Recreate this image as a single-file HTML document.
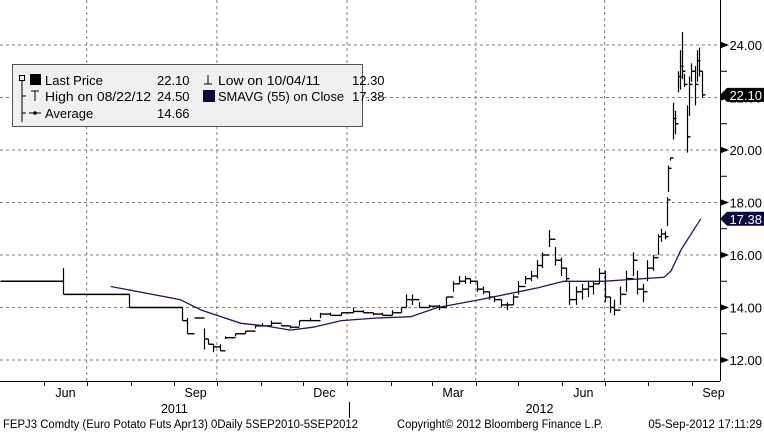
<!DOCTYPE html>
<html><head><meta charset="utf-8"><style>
html,body{margin:0;padding:0;background:#fff;}
svg{display:block;font-family:"Liberation Sans",sans-serif;}
</style></head><body>
<svg id="chart" width="764" height="433" viewBox="0 0 764 433" xmlns="http://www.w3.org/2000/svg">
<g id="grid"></g>
<g id="series"></g>
<polyline id="sma" fill="none" stroke="#1a1a5e" stroke-width="1.3"></polyline>
<g id="axes"></g>
<g>
  <rect x="12.5" y="64.5" width="350" height="62" fill="#f0f0f0" stroke="#555" stroke-width="1"/>
  <rect x="19.5" y="75.5" width="5" height="5" fill="none" stroke="#000"/>
  <line x1="22" y1="81" x2="22" y2="122" stroke="#000"/>
  <line x1="22" y1="96" x2="26" y2="96" stroke="#000"/>
  <line x1="22" y1="113" x2="26" y2="113" stroke="#000"/>
  <rect x="30" y="74" width="11" height="11" fill="#000"/>
  <text x="45" y="85" font-size="13">Last Price</text>
  <text x="157" y="85" font-size="13">22.10</text>
  <path d="M31 91 H39 M35 91 V101" stroke="#000" fill="none"/>
  <text x="45" y="101" font-size="13" textLength="106" lengthAdjust="spacingAndGlyphs">High on 08/22/12</text>
  <text x="157" y="101" font-size="13">24.50</text>
  <path d="M29 113 H41" stroke="#000"/><circle cx="35" cy="113" r="1.8" fill="#000"/>
  <text x="45" y="118" font-size="13">Average</text>
  <text x="157" y="118" font-size="13">14.66</text>
  <path d="M208 75 V84 M204 84 H212" stroke="#000" fill="none"/>
  <text x="218" y="85" font-size="13" textLength="102" lengthAdjust="spacingAndGlyphs">Low on 10/04/11</text>
  <text x="352" y="85" font-size="13" text-anchor="start">12.30</text>
  <rect x="203" y="90" width="12" height="12" fill="#0a0a40"/>
  <text x="218" y="101" font-size="13" textLength="126" lengthAdjust="spacingAndGlyphs">SMAVG (55) on Close</text>
  <text x="352" y="101" font-size="13">17.38</text>
</g>
<g id="footer" font-size="11.5">
  <text x="3" y="428" textLength="355" lengthAdjust="spacingAndGlyphs">FEPJ3 Comdty (Euro Potato Futs  Apr13) 0Daily 5SEP2010-5SEP2012</text>
  <text x="397" y="428" textLength="206" lengthAdjust="spacingAndGlyphs">Copyright© 2012 Bloomberg Finance L.P.</text>
  <text x="762" y="428" text-anchor="end">05-Sep-2012 17:11:29</text>
</g>
</svg>
<script>
// days measured from 2011-07-01
const barDays=[-61,-17,30,67,71,76,83,86,89,94,98,105,112,119,124,130,137,144,150,158,165,172,180,188,195,202,209,216,222,226,230,235,242,249,254,259,263,267,271,276,280,284,288,293,297,301,305,310,314,318,322,327,331,335,339,341,346,350,354,358,362,366,370,373,377,381,386,389,393,396,400,404,406,409,410,411,412,414,416,418,419,421,422,424,426,427,430,431,433,435];
const barHigh=[15.0,15.5,14.5,14.0,13.6,13.6,13.2,12.8,12.6,12.6,12.9,13.0,13.1,13.3,13.4,13.5,13.35,13.3,13.5,13.6,13.8,13.8,13.8,14.0,13.9,13.8,13.8,13.9,14.0,14.5,14.5,14.2,14.1,14.1,14.4,15.0,15.2,15.2,15.1,15.0,14.8,14.6,14.4,14.3,14.2,14.5,15.0,15.2,15.4,15.8,16.1,16.95,16.3,15.9,15.5,15.0,14.8,14.9,15.0,15.0,15.5,15.4,14.4,14.3,14.8,15.4,16.1,15.4,14.9,15.8,16.0,16.8,17.0,16.9,18.2,19.4,19.7,21.8,21.5,23.0,23.8,24.5,22.9,21.7,22.8,23.3,23.2,23.8,23.9,23.0];
const barLow=[15.0,14.5,14.0,13.5,13.0,13.6,12.4,12.6,12.3,12.35,12.8,12.9,13.0,13.2,13.3,13.3,13.3,13.2,13.3,13.5,13.6,13.7,13.7,13.8,13.8,13.7,13.7,13.7,13.8,14.0,14.1,14.0,14.0,13.9,14.0,14.6,14.9,14.9,14.9,14.6,14.5,14.3,14.2,14.0,13.9,14.1,14.5,14.9,15.0,15.1,15.5,16.3,15.6,15.2,15.0,14.1,14.1,14.3,14.4,14.5,14.9,14.2,13.8,13.7,14.1,14.6,15.2,14.5,14.2,15.0,15.4,16.0,16.5,16.6,17.1,18.4,19.6,20.4,20.6,22.2,22.3,22.7,22.4,19.9,21.3,22.6,21.7,22.6,22.8,22.0];
const barClose=[15.0,14.5,14.0,13.5,13.0,13.6,12.8,12.6,12.5,12.35,12.85,13.0,13.1,13.3,13.3,13.4,13.3,13.25,13.5,13.5,13.75,13.7,13.8,13.85,13.8,13.75,13.7,13.8,14.0,14.3,14.3,14.0,14.05,14.0,14.4,14.9,15.0,15.1,15.0,14.7,14.6,14.4,14.3,14.1,14.1,14.4,14.8,15.1,15.2,15.6,16.0,16.6,15.8,15.5,15.1,14.3,14.6,14.7,14.8,14.9,15.3,14.4,14.0,13.9,14.5,15.1,15.8,14.7,14.6,15.5,15.9,16.7,16.8,16.7,18.1,19.3,19.7,21.2,21.0,22.8,23.2,23.0,22.5,20.5,22.5,23.0,22.5,23.4,23.0,22.1];
const smaDays=[17,66,81,109,126,144,160,180,205,229,248,278,319,337,365,408,413,420,434];
const smaValues=[14.8,14.3,13.9,13.4,13.3,13.14,13.25,13.5,13.6,13.65,14.0,14.3,14.75,15.0,15.0,15.15,15.4,16.2,17.38];
const yTicks=[12,14,16,18,20,22,24];
const yMinorTicks=[13,15,17,19,21,23];
const monthTickDays=[-30,0,31,62,92,123,153,184,215,244,275,305,336,366,397,428];
const monthLabels=["Jun","Sep","Dec","Mar","Jun","Sep"];
const monthLabelDays=[-15,77,168,259,351,443];
const gridDays=[0,92,184,275,366];
const yearLabels=["2011","2012"];
const yearLabelDays=[62,320];
const lastPrice=22.10, smaLast=17.38;

const NS="http://www.w3.org/2000/svg";
const PX=1.415, X0=86.7;
const x=d=>X0+d*PX;
const y=v=>360-(v-12)*26.25;
function mk(tag,attrs,parent){const e=document.createElementNS(NS,tag);for(const k in attrs)e.setAttribute(k,attrs[k]);parent.appendChild(e);return e;}
const grid=document.getElementById('grid'),ser=document.getElementById('series'),ax=document.getElementById('axes');
yTicks.forEach(v=>{const l=mk('line',{x1:0,x2:720,y1:y(v),y2:y(v),stroke:'#808080','stroke-dasharray':'3,3'},grid);

});
gridDays.forEach(d=>{const l=mk('line',{x1:x(d),x2:x(d),y1:0,y2:381,stroke:'#808080','stroke-dasharray':'3,3'},grid);

});
barDays.forEach((d,i)=>{
 const xx=Math.round(x(d))+0.5;
 const nx=i<barDays.length-1?Math.round(x(barDays[i+1]))+0.5:xx+3;
 const g=mk('g',{},ser);
 
 
 mk('line',{x1:xx,x2:xx,y1:y(barHigh[i]),y2:y(barLow[i]),stroke:'#000','stroke-width':1.2},g);
 mk('line',{x1:xx,x2:Math.max(nx,xx+3),y1:y(barClose[i]),y2:y(barClose[i]),stroke:'#000','stroke-width':1.4},g);
});
document.getElementById('sma').setAttribute('points',smaDays.map((d,i)=>x(d).toFixed(1)+','+y(smaValues[i]).toFixed(1)).join(' '));
mk('line',{x1:720.5,x2:720.5,y1:0,y2:381,stroke:'#000'},ax);
mk('line',{x1:0,x2:720,y1:381.5,y2:381.5,stroke:'#000'},ax);
yTicks.forEach(v=>{const yy=y(v);
 mk('path',{d:`M720 ${yy-3.5} L729 ${yy} L720 ${yy+3.5}Z`,fill:'#000'},ax);
 const t=mk('text',{x:762,y:yy+5,'text-anchor':'end','font-size':13,fill:'#000'},ax);
 t.textContent=v.toFixed(2);
 
 });
yMinorTicks.forEach(v=>mk('line',{x1:720,x2:727,y1:y(v),y2:y(v),stroke:'#000'},ax));
monthTickDays.forEach(d=>mk('line',{x1:Math.round(x(d))+0.5,x2:Math.round(x(d))+0.5,y1:381,y2:386,stroke:'#000'},ax));
monthLabels.forEach((m,i)=>{const t=mk('text',{x:x(monthLabelDays[i]),y:397,'text-anchor':'middle','font-size':12.5},ax);
 t.textContent=m;
 
 });
yearLabels.forEach((m,i)=>{const t=mk('text',{x:x(yearLabelDays[i]),y:413,'text-anchor':'middle','font-size':12.5},ax);
 t.textContent=m;
 
 });
mk('line',{x1:349.5,x2:349.5,y1:402,y2:418,stroke:'#000'},ax);
function tag(v,fill,label){const yy=y(v);const g=mk('g',{},ax);
 
 
 mk('path',{d:`M720 ${yy} L727 ${yy-7} H764 V${yy+7} H727Z`,fill:fill},g);
 const t=mk('text',{x:762,y:yy+5,'text-anchor':'end','font-size':13,fill:'#fff'},g);t.textContent=v.toFixed(2);}
tag(lastPrice,'#000','last-price-tag');
tag(smaLast,'#0a0a40','smavg-tag');
</script>
</body></html>
